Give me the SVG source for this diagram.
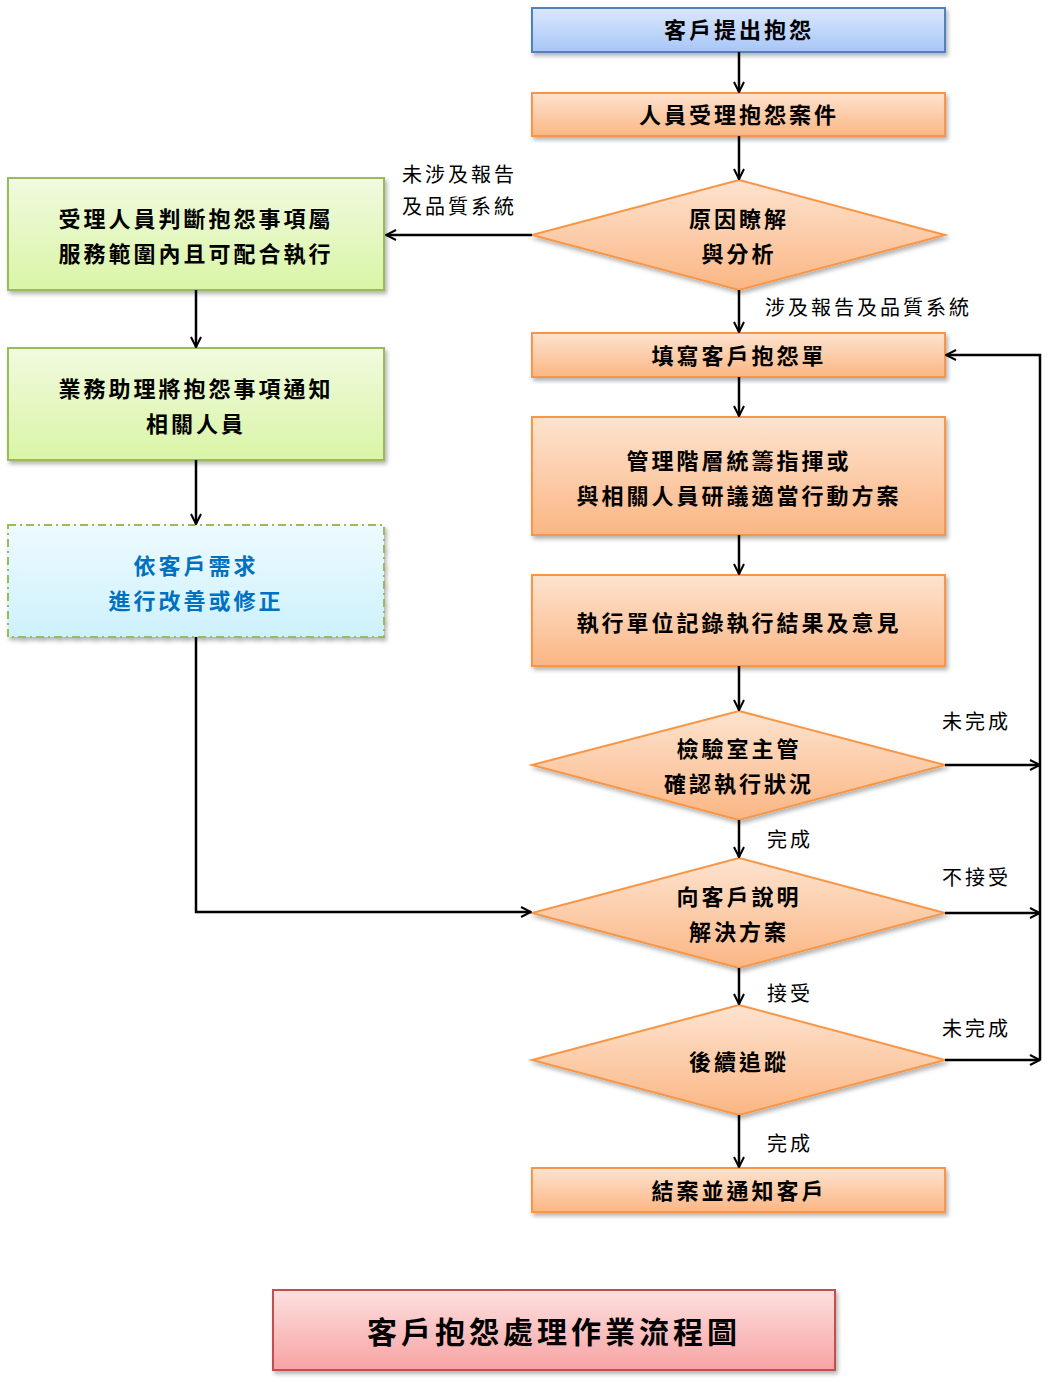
<svg xmlns="http://www.w3.org/2000/svg" width="1059" height="1385" viewBox="0 0 1059 1385">
<defs>
<linearGradient id="gb" x1="0" y1="0" x2="0" y2="1"><stop offset="0" stop-color="#dbe8fc"/><stop offset="1" stop-color="#a7c6f7"/></linearGradient>
<linearGradient id="go" x1="0" y1="0" x2="0" y2="1"><stop offset="0" stop-color="#fde3cf"/><stop offset="1" stop-color="#fbb684"/></linearGradient>
<linearGradient id="gg" x1="0" y1="0" x2="0" y2="1"><stop offset="0" stop-color="#f1fadf"/><stop offset="1" stop-color="#d9f5a6"/></linearGradient>
<linearGradient id="gc" x1="0" y1="0" x2="0" y2="1"><stop offset="0" stop-color="#eefaff"/><stop offset="1" stop-color="#cdf1fc"/></linearGradient>
<linearGradient id="gr" x1="0" y1="0" x2="0" y2="1"><stop offset="0" stop-color="#fde0e0"/><stop offset="1" stop-color="#f7a3a3"/></linearGradient>
<filter id="sh" x="-5%" y="-5%" width="110%" height="120%"><feDropShadow dx="2" dy="3" stdDeviation="2" flood-color="#000" flood-opacity="0.3"/></filter>
<marker id="ar" viewBox="0 0 12 12" refX="11" refY="6" markerWidth="12" markerHeight="12" markerUnits="userSpaceOnUse" orient="auto"><path d="M1,1 L11,6 L1,11" fill="none" stroke="#000" stroke-width="2"/></marker>
</defs>
<style>
text{font-family:"Noto Sans CJK TC","Noto Sans CJK SC",sans-serif;font-weight:bold;font-size:22px;text-anchor:middle;fill:#000;letter-spacing:3px}
.lb{font-weight:normal;font-size:20px;text-anchor:start}
.o{fill:url(#go);stroke:#f79646;stroke-width:2;filter:url(#sh)}
.g{fill:url(#gg);stroke:#9bbb59;stroke-width:2;filter:url(#sh)}
.c line,.c polyline,.c path{stroke:#000;stroke-width:2.5;fill:none}
</style>
<g id="n1"><rect x="532" y="8" width="413" height="44" fill="url(#gb)" stroke="#4f81bd" stroke-width="2" filter="url(#sh)"/><text x="739" y="38">客戶提出抱怨</text></g>
<g id="n2"><rect class="o" x="532" y="93" width="413" height="43"/><text x="739" y="123">人員受理抱怨案件</text></g>
<g id="n3"><polygon class="o" points="739,180 945,235 739,290 532,235"/><text x="739" y="227">原因瞭解</text><text x="739" y="262">與分析</text></g>
<g id="n4"><rect class="g" x="8" y="178" width="376" height="112"/><text x="196" y="227">受理人員判斷抱怨事項屬</text><text x="196" y="262">服務範圍內且可配合執行</text></g>
<g id="n5"><rect class="g" x="8" y="348" width="376" height="112"/><text x="196" y="397">業務助理將抱怨事項通知</text><text x="196" y="432">相關人員</text></g>
<g id="n6"><rect x="8" y="525" width="376" height="112" fill="url(#gc)" stroke="#9bbb59" stroke-width="2" stroke-dasharray="8,4,2,4" filter="url(#sh)"/><text x="196" y="574" style="fill:#0070c0">依客戶需求</text><text x="196" y="609" style="fill:#0070c0">進行改善或修正</text></g>
<g id="n7"><rect class="o" x="532" y="333" width="413" height="44"/><text x="739" y="364">填寫客戶抱怨單</text></g>
<g id="n8"><rect class="o" x="532" y="417" width="413" height="118"/><text x="739" y="469">管理階層統籌指揮或</text><text x="739" y="504">與相關人員研議適當行動方案</text></g>
<g id="n9"><rect class="o" x="532" y="575" width="413" height="91"/><text x="739" y="631">執行單位記錄執行結果及意見</text></g>
<g id="n10"><polygon class="o" points="739,711 945,765 739,820 532,765"/><text x="739" y="757">檢驗室主管</text><text x="739" y="792">確認執行狀況</text></g>
<g id="n11"><polygon class="o" points="739,858 945,913 739,968 532,913"/><text x="739" y="905">向客戶說明</text><text x="739" y="940">解決方案</text></g>
<g id="n12"><polygon class="o" points="739,1005 945,1060 739,1115 532,1060"/><text x="739" y="1070">後續追蹤</text></g>
<g id="n13"><rect class="o" x="532" y="1168" width="413" height="44"/><text x="739" y="1199">結案並通知客戶</text></g>
<g id="title"><rect x="273" y="1290" width="562" height="80" fill="url(#gr)" stroke="#c0504d" stroke-width="2" filter="url(#sh)"/><text x="554" y="1343" style="font-size:30px;letter-spacing:4px">客戶抱怨處理作業流程圖</text></g>
<g id="connectors" class="c">
<line x1="739" y1="52" x2="739" y2="92" marker-end="url(#ar)"/>
<line x1="739" y1="136" x2="739" y2="179" marker-end="url(#ar)"/>
<line x1="532" y1="235" x2="386" y2="235" marker-end="url(#ar)"/>
<line x1="739" y1="290" x2="739" y2="332" marker-end="url(#ar)"/>
<line x1="196" y1="290" x2="196" y2="347" marker-end="url(#ar)"/>
<line x1="196" y1="460" x2="196" y2="524" marker-end="url(#ar)"/>
<polyline points="196,637 196,912 531,912" marker-end="url(#ar)"/>
<line x1="739" y1="377" x2="739" y2="416" marker-end="url(#ar)"/>
<line x1="739" y1="535" x2="739" y2="574" marker-end="url(#ar)"/>
<line x1="739" y1="666" x2="739" y2="710" marker-end="url(#ar)"/>
<line x1="739" y1="820" x2="739" y2="857" marker-end="url(#ar)"/>
<line x1="739" y1="968" x2="739" y2="1004" marker-end="url(#ar)"/>
<line x1="739" y1="1115" x2="739" y2="1167" marker-end="url(#ar)"/>
<line x1="945" y1="765" x2="1040" y2="765" marker-end="url(#ar)"/>
<line x1="945" y1="913" x2="1040" y2="913" marker-end="url(#ar)"/>
<line x1="945" y1="1060" x2="1040" y2="1060" marker-end="url(#ar)"/>
<polyline points="1040,1060 1040,355 946,355" marker-end="url(#ar)"/>
</g>
<g id="labels">
<text class="lb" x="402" y="182">未涉及報告</text>
<text class="lb" x="402" y="214">及品質系統</text>
<text class="lb" x="765" y="315">涉及報告及品質系統</text>
<text class="lb" x="942" y="729">未完成</text>
<text class="lb" x="767" y="847">完成</text>
<text class="lb" x="942" y="885">不接受</text>
<text class="lb" x="767" y="1001">接受</text>
<text class="lb" x="942" y="1036">未完成</text>
<text class="lb" x="767" y="1151">完成</text>
</g>
</svg>
